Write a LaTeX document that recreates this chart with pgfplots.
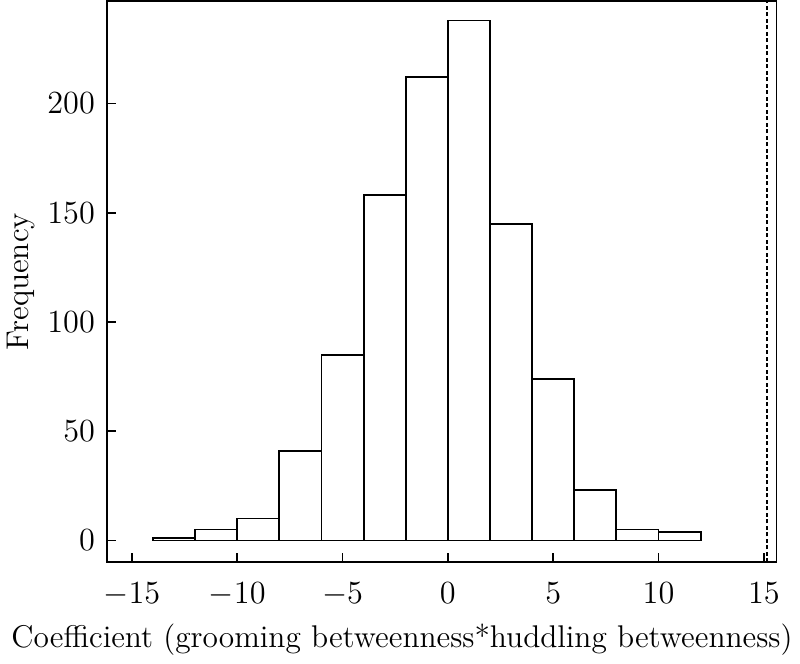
\documentclass[border=0pt]{standalone}
\usepackage{pgfplots}
\pgfplotsset{compat=1.18}

\begin{document}
\begin{tikzpicture}
\begin{axis}[
  scale only axis,
  width=10.5cm, height=8.8cm,
  xmin=-16.2, xmax=15.6, ymin=-10, ymax=247,
  xtick={-15,-10,-5,0,5,10,15},
  ytick={0,50,100,150,200},
  tick align=inside,
  xtick pos=bottom, ytick pos=left,
  major tick length=0.15cm,
  axis line style={line width=0.8pt},
  tick style={line width=0.8pt, black},
  every tick label/.append style={font=\fontsize{14}{16}\selectfont},
  xticklabel style={yshift=-0.2cm},
  yticklabel style={xshift=-0.06cm},
  label style={font=\fontsize{14}{16}\selectfont},
  xlabel={Coefficient (grooming betweenness*huddling betweenness)},
  ylabel={Frequency},
  xlabel style={yshift=-0.04cm, xshift=-0.62cm},
  ylabel style={yshift=-0.05cm},
]
\addplot[ybar interval, fill=white, draw=black, line width=0.8pt]
  coordinates {(-14,1)(-12,5)(-10,10)(-8,41)(-6,85)(-4,158)(-2,212)
               (0,238)(2,145)(4,74)(6,23)(8,5)(10,4)(12,4)};
\addplot[dash pattern=on 1.7pt off 1.2pt, line width=0.8pt, black]
  coordinates {(15.15,-10)(15.15,247)};
\end{axis}
\end{tikzpicture}
\end{document}
